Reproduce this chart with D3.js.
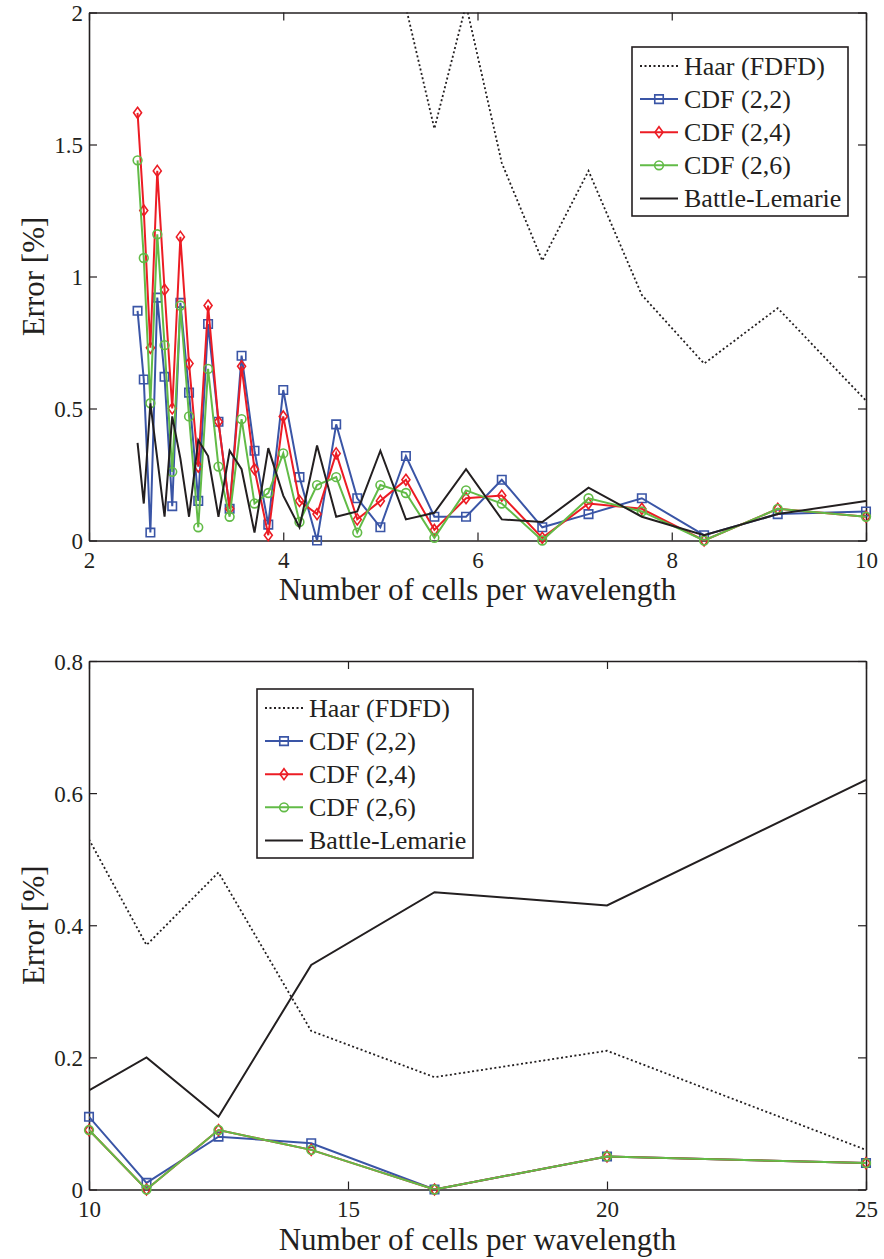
<!DOCTYPE html>
<html>
<head>
<meta charset="utf-8">
<script src="https://cdn.jsdelivr.net/npm/d3@7"></script>
<style>
  html, body { margin: 0; padding: 0; background: #fff; }
  svg { display: block; }
  text { font-family: "Liberation Serif", "Times New Roman", serif; fill: #231f20; }
</style>
</head>
<body>
<svg id="chart" width="884" height="1259"></svg>
<script>
// ---------- DATA ----------
const seriesNames = ["Haar (FDFD)", "CDF (2,2)", "CDF (2,4)", "CDF (2,6)", "Battle-Lemarie"];

// Top panel: number of cells per wavelength
const topX = [2.5, 2.564, 2.632, 2.703, 2.778, 2.857, 2.941, 3.030, 3.125, 3.226, 3.333,
              3.448, 3.571, 3.704, 3.846, 4.0, 4.167, 4.348, 4.545, 4.762, 5.0,
              5.263, 5.556, 5.882, 6.25, 6.667, 7.143, 7.692, 8.333, 9.091, 10];
const topHaar = [null, null, null, null, null, null, null, null, null, null, null,
                 null, null, null, null, null, null, null, null, null, null,
                 2.02, 1.56, 2.03, 1.43, 1.06, 1.40, 0.93, 0.67, 0.88, 0.53];
const topCDF22 = [0.87, 0.61, 0.03, 0.92, 0.62, 0.13, 0.90, 0.56, 0.15, 0.82, 0.45,
                  0.12, 0.70, 0.34, 0.06, 0.57, 0.24, 0.00, 0.44, 0.16, 0.05,
                  0.32, 0.09, 0.09, 0.23, 0.05, 0.10, 0.16, 0.02, 0.10, 0.11];
const topCDF24 = [1.62, 1.25, 0.73, 1.40, 0.95, 0.50, 1.15, 0.67, 0.28, 0.89, 0.45,
                  0.12, 0.66, 0.27, 0.02, 0.47, 0.15, 0.10, 0.33, 0.08, 0.15,
                  0.23, 0.04, 0.16, 0.17, 0.01, 0.14, 0.12, 0.00, 0.12, 0.09];
const topCDF26 = [1.44, 1.07, 0.52, 1.16, 0.74, 0.26, 0.89, 0.47, 0.05, 0.65, 0.28,
                  0.09, 0.46, 0.14, 0.18, 0.33, 0.07, 0.21, 0.24, 0.03, 0.21,
                  0.18, 0.01, 0.19, 0.14, 0.00, 0.16, 0.11, 0.00, 0.12, 0.09];
const topBL = [0.37, 0.14, 0.52, 0.31, 0.09, 0.47, 0.31, 0.09, 0.38, 0.32, 0.09,
               0.34, 0.27, 0.03, 0.35, 0.17, 0.05, 0.36, 0.09, 0.11, 0.34,
               0.08, 0.105, 0.27, 0.08, 0.07, 0.20, 0.09, 0.02, 0.10, 0.15];

// Bottom panel
const botX = [10, 11.11, 12.5, 14.29, 16.67, 20, 25];
const botHaar  = [0.53, 0.37, 0.48, 0.24, 0.17, 0.21, 0.06];
const botCDF22 = [0.11, 0.01, 0.08, 0.07, 0.00, 0.05, 0.04];
const botCDF24 = [0.09, 0.00, 0.09, 0.06, 0.00, 0.05, 0.04];
const botCDF26 = [0.09, 0.00, 0.09, 0.06, 0.00, 0.05, 0.04];
const botBL    = [0.15, 0.20, 0.11, 0.34, 0.45, 0.43, 0.62];

const topXTicks = [2, 4, 6, 8, 10];
const topYTicks = [0, 0.5, 1, 1.5, 2];
const botXTicks = [10, 15, 20, 25];
const botYTicks = [0, 0.2, 0.4, 0.6, 0.8];

const xLabel = "Number of cells per wavelength";
const yLabel = "Error [%]";

// ---------- STYLE ----------
const styles = [
  { color: "#231f20", dash: "2,2.5", marker: null },
  { color: "#3a55a6", dash: null, marker: "square" },
  { color: "#ec1c24", dash: null, marker: "diamond" },
  { color: "#62bb47", dash: null, marker: "circle" },
  { color: "#231f20", dash: null, marker: null }
];
const ink = "#231f20";

const svg = d3.select("#chart");

function markerPath(type) {
  if (type === "square") return d3.symbol().type(d3.symbolSquare).size(72)();
  if (type === "diamond") return "M0,-5.5L4,0L0,5.5L-4,0Z";
  if (type === "circle") return d3.symbol().type(d3.symbolCircle).size(60)();
  return null;
}

function panel(cfg) {
  const { left, right, top, bottom, xDomain, yDomain, xTicks, yTicks, xs, series, legend, id, yFmt } = cfg;
  const x = d3.scaleLinear().domain(xDomain).range([left, right]);
  const y = d3.scaleLinear().domain(yDomain).range([bottom, top]);
  const g = svg.append("g");

  g.append("clipPath").attr("id", "clip" + id)
    .append("rect").attr("x", left).attr("y", top).attr("width", right - left).attr("height", bottom - top);

  // axes
  const tickLen = -8;
  const axB = g.append("g").attr("transform", `translate(0,${bottom})`)
    .call(d3.axisBottom(x).tickValues(xTicks).tickSizeInner(tickLen).tickSizeOuter(0).tickPadding(11).tickFormat(d3.format("d")));
  const axL = g.append("g").attr("transform", `translate(${left},0)`)
    .call(d3.axisLeft(y).tickValues(yTicks).tickSizeInner(tickLen).tickSizeOuter(0).tickPadding(6).tickFormat(yFmt));
  const axT = g.append("g").attr("transform", `translate(0,${top})`)
    .call(d3.axisTop(x).tickValues(xTicks).tickSizeInner(tickLen).tickSizeOuter(0).tickFormat(""));
  const axR = g.append("g").attr("transform", `translate(${right},0)`)
    .call(d3.axisRight(y).tickValues(yTicks).tickSizeInner(tickLen).tickSizeOuter(0).tickFormat(""));
  [axB, axL, axT, axR].forEach(a => {
    a.attr("font-family", null);
    a.select(".domain").attr("stroke", ink).attr("stroke-width", 1.6);
    a.selectAll(".tick line").attr("stroke", ink).attr("stroke-width", 1.2);
    a.selectAll("text").style("font-size", "23px").attr("fill", ink)
      .style("font-family", '"Liberation Serif", "Times New Roman", serif');
  });
  axL.selectAll("text").attr("dy", "0.36em");

  // series
  series.forEach((vals, i) => {
    const st = styles[i];
    const pts = xs.map((xv, j) => ({ x: xv, y: vals[j] })).filter(d => d.y !== null);
    const line = d3.line().x(d => x(d.x)).y(d => y(d.y));
    const p = g.append("path").datum(pts)
      .attr("d", line).attr("fill", "none")
      .attr("stroke", st.color).attr("stroke-width", 2)
      .attr("stroke-linejoin", "miter");
    if (st.dash) p.attr("stroke-dasharray", st.dash).attr("stroke-width", 1.8);
    p.attr("clip-path", `url(#clip${id})`);
    if (st.marker) {
      g.append("g").selectAll("path").data(pts).join("path")
        .attr("d", markerPath(st.marker))
        .attr("transform", d => `translate(${x(d.x)},${y(d.y)})`)
        .attr("fill", "none").attr("stroke", st.color).attr("stroke-width", 1.6);
    }
  });

  // axis labels
  g.append("text").attr("x", (left + right) / 2).attr("y", cfg.xLabelY)
    .attr("text-anchor", "middle").style("font-size", "31px").text(xLabel);
  g.append("text").attr("transform", `translate(${cfg.yLabelX},${(top + bottom) / 2}) rotate(-90)`)
    .attr("text-anchor", "middle").style("font-size", "31px").text(yLabel);

  // legend
  const lg = g.append("g").attr("transform", `translate(${legend.x},${legend.y})`);
  lg.append("rect").attr("x", 0).attr("y", 0).attr("width", legend.w).attr("height", legend.h)
    .attr("fill", "#fff").attr("stroke", ink).attr("stroke-width", 1.6);
  seriesNames.forEach((name, i) => {
    const st = styles[i];
    const cy = 19 + i * 33.1;
    const l = lg.append("line").attr("x1", 8).attr("x2", 46).attr("y1", cy).attr("y2", cy)
      .attr("stroke", st.color).attr("stroke-width", st.dash ? 1.8 : 2);
    if (st.dash) l.attr("stroke-dasharray", st.dash);
    if (st.marker) {
      lg.append("path").attr("d", markerPath(st.marker))
        .attr("transform", `translate(27,${cy})`)
        .attr("fill", "none").attr("stroke", st.color).attr("stroke-width", 1.6);
    }
    lg.append("text").attr("x", 52).attr("y", cy).attr("dy", "0.34em")
      .style("font-size", "26px").text(name);
  });
}

panel({
  id: "top", left: 89, right: 866, top: 12.5, bottom: 540.5,
  xDomain: [2, 10], yDomain: [0, 2], xTicks: topXTicks, yTicks: topYTicks,
  yFmt: d => (d === 0 ? "0" : d3.format("")(d)),
  xs: topX, series: [topHaar, topCDF22, topCDF24, topCDF26, topBL],
  legend: { x: 632, y: 47, w: 216, h: 169 },
  xLabelY: 600, yLabelX: 44
});

panel({
  id: "bot", left: 89, right: 866, top: 661, bottom: 1189.5,
  xDomain: [10, 25], yDomain: [0, 0.8], xTicks: botXTicks, yTicks: botYTicks,
  yFmt: d => (d === 0 ? "0" : d3.format(".1f")(d)),
  xs: botX, series: [botHaar, botCDF22, botCDF24, botCDF26, botBL],
  legend: { x: 257, y: 689, w: 216, h: 169 },
  xLabelY: 1250, yLabelX: 44
});
</script>
</body>
</html>
